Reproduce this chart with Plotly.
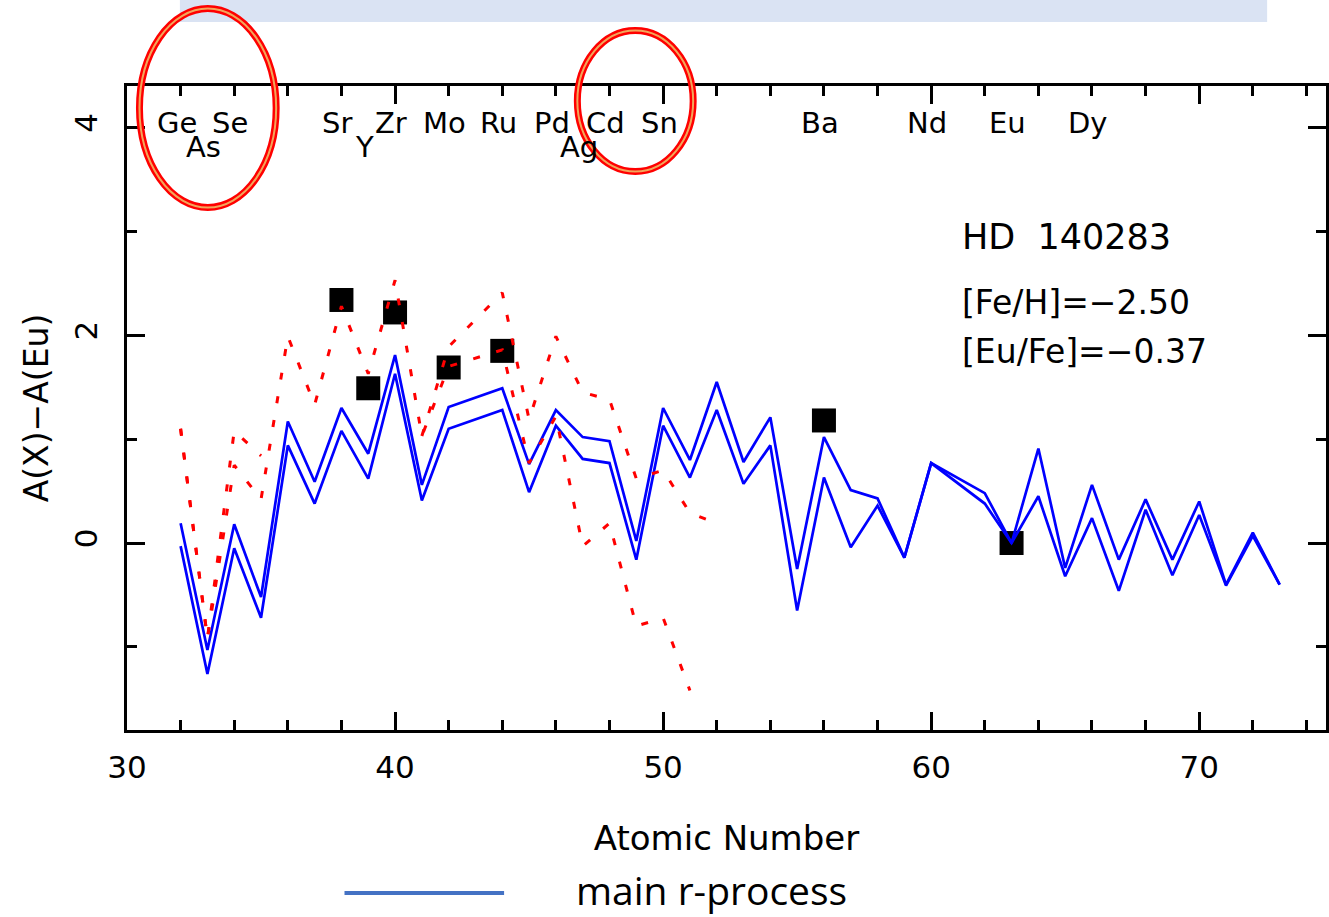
import plotly.graph_objects as go

# ---------------- data ----------------
blue_z = [32, 33, 34, 35, 36, 37, 38, 39, 40, 41, 42, 44, 45, 46, 47, 48, 49, 50, 51, 52,
          53, 54, 55, 56, 57, 58, 59, 60, 62, 63, 64, 65, 66, 67, 68, 69, 70, 71, 72, 73]
blue_upper = [0.19, -1.03, 0.18, -0.52, 1.17, 0.59, 1.30, 0.86, 1.81, 0.56, 1.31, 1.49, 0.76, 1.28,
              1.02, 0.98, 0.02, 1.30, 0.80, 1.55, 0.78, 1.21, -0.25, 1.02, 0.51, 0.43, -0.14, 0.77,
              0.48, 0.00, 0.91, -0.24, 0.56, -0.16, 0.42, -0.16, 0.40, -0.40, 0.10, -0.40]
blue_lower = [-0.03, -1.26, -0.05, -0.72, 0.94, 0.38, 1.08, 0.62, 1.63, 0.41, 1.10, 1.28, 0.49, 1.13,
              0.81, 0.77, -0.16, 1.13, 0.63, 1.28, 0.57, 0.94, -0.65, 0.63, -0.04, 0.36, -0.14, 0.77,
              0.38, 0.00, 0.45, -0.32, 0.24, -0.46, 0.32, -0.31, 0.27, -0.41, 0.07, -0.40]

red_upper_z = [32, 33, 34, 35, 36, 37, 38, 39, 40, 41, 42, 44, 45, 46, 47, 48, 49, 50, 51, 52]
red_upper = [1.10, -0.92, 1.08, 0.84, None, None, None, None, None, 1.03, 1.89, 2.41, 1.19, 1.99,
             1.45, 1.38, 0.62, 0.70, 0.29, 0.19]
red_lower_z = [32, 33, 34, 35, 36, 37, 38, 39, 40, 41, 42, 44, 45, 46, 47, 48, 49, 50, 51]
red_lower = [1.10, -0.92, 0.75, 0.42, 1.99, 1.33, 2.28, 1.63, 2.53, 1.03, 1.70, 1.86, 0.77, 1.22,
             -0.03, 0.19, -0.80, -0.72, -1.42]

obs_z = [38, 39, 40, 42, 44, 56, 63]
obs_val = [2.34, 1.49, 2.22, 1.69, 1.85, 1.18, 0.00]

top_labels = ["Ge", "Se", "Sr", "Zr", "Mo", "Ru", "Pd", "Cd", "Sn", "Ba", "Nd", "Eu", "Dy"]
top_z = [32, 34, 38, 40, 42, 44, 46, 48, 50, 56, 60, 63, 66]
low_labels = ["As", "Y", "Ag"]
low_z = [33, 39, 47]

star_lines = ["HD  140283", "[Fe/H]=\u22122.50", "[Eu/Fe]=\u22120.37"]
x_title = "Atomic Number"
y_title = "A(X)\u2212A(Eu)"
legend_label = "main r-process"

FONT = "DejaVu Sans"

# ---------------- figure ----------------
fig = go.Figure()

fig.add_trace(go.Scatter(x=obs_z, y=obs_val, mode="markers",
                         marker=dict(symbol="square", size=24, color="black",
                                     line=dict(width=0)),
                         showlegend=False))
fig.add_trace(go.Scatter(x=blue_z, y=blue_upper, mode="lines",
                         line=dict(color="#0000FF", width=2.7), showlegend=False))
fig.add_trace(go.Scatter(x=blue_z, y=blue_lower, mode="lines",
                         line=dict(color="#0000FF", width=2.7), showlegend=False))
fig.add_trace(go.Scatter(x=red_upper_z, y=red_upper, mode="lines", connectgaps=False,
                         line=dict(color="#FF0000", width=3, dash="7px,17px"), showlegend=False))
fig.add_trace(go.Scatter(x=red_lower_z, y=red_lower, mode="lines",
                         line=dict(color="#FF0000", width=3, dash="7px,17px"), showlegend=False))

annotations = []
for name, z in zip(top_labels, top_z):
    annotations.append(dict(x=z, y=4.04, xref="x", yref="y", text=name, showarrow=False,
                            xanchor="center", yanchor="middle", xshift=-4,
                            font=dict(family=FONT, size=29, color="black")))
for name, z in zip(low_labels, low_z):
    annotations.append(dict(x=z, y=3.81, xref="x", yref="y", text=name, showarrow=False,
                            xanchor="center", yanchor="middle", xshift=-4,
                            font=dict(family=FONT, size=29, color="black")))

star_y = [2.945, 2.32, 1.84]
star_size = [35, 33, 33]
for txt, yy, sz in zip(star_lines, star_y, star_size):
    annotations.append(dict(x=61.07, y=yy, xref="x", yref="y", text=txt, showarrow=False,
                            xanchor="left", yanchor="middle",
                            font=dict(family=FONT, size=sz, color="black")))

annotations.append(dict(x=0.3727, y=-0.2484, xref="paper", yref="paper", text=legend_label,
                        showarrow=False, xanchor="left", yanchor="middle",
                        font=dict(family="Open Sans", size=39, color="black")))

shapes = [
    dict(type="rect", xref="paper", yref="paper", x0=0.0441, x1=0.9509, y0=1.0994, y1=1.14,
         fillcolor="#DAE3F3", line=dict(width=0), layer="below"),
    dict(type="circle", xref="paper", yref="paper", x0=0.0104, x1=0.1244, y0=0.8113, y1=1.1203,
         line=dict(color="#FF0000", width=7)),
    dict(type="circle", xref="paper", yref="paper", x0=0.0104, x1=0.1244, y0=0.8113, y1=1.1203,
         line=dict(color="#F2A65A", width=2)),
    dict(type="circle", xref="paper", yref="paper", x0=0.3756, x1=0.4722, y0=0.8672, y1=1.0862,
         line=dict(color="#FF0000", width=7)),
    dict(type="circle", xref="paper", yref="paper", x0=0.3756, x1=0.4722, y0=0.8672, y1=1.0862,
         line=dict(color="#F2A65A", width=2)),
    dict(type="line", xref="paper", yref="paper", x0=0.1814, x1=0.3145, y0=-0.2531, y1=-0.2531,
         line=dict(color="#4472C4", width=4)),
]

axis_common = dict(showline=True, linewidth=3, linecolor="black", mirror="ticks",
                   ticks="inside", tickcolor="black", tickwidth=3, ticklen=18,
                   showgrid=False, zeroline=False,
                   tickfont=dict(family=FONT, size=31, color="black"))

fig.update_layout(
    width=1329, height=917,
    margin=dict(l=127, r=0, t=86, b=187),
    paper_bgcolor="white", plot_bgcolor="white",
    showlegend=False,
    xaxis=dict(range=[30, 74.73], tick0=30, dtick=10, ticklabelstandoff=8,
               minor=dict(dtick=2, tick0=30, ticks="inside", ticklen=10, tickwidth=2.5,
                          tickcolor="black", showgrid=False),
               title=dict(text=x_title, standoff=42,
                          font=dict(family=FONT, size=34, color="black")),
               **axis_common),
    yaxis=dict(range=[-1.8, 4.4], tick0=0, dtick=2, tickangle=-90, ticklabelstandoff=15,
               minor=dict(dtick=1, tick0=0, ticks="inside", ticklen=10, tickwidth=2.5,
                          tickcolor="black", showgrid=False),
               title=dict(text=y_title, standoff=10,
                          font=dict(family=FONT, size=33, color="black")),
               **axis_common),
    annotations=annotations,
    shapes=shapes,
)

fig.write_html("out.html")
